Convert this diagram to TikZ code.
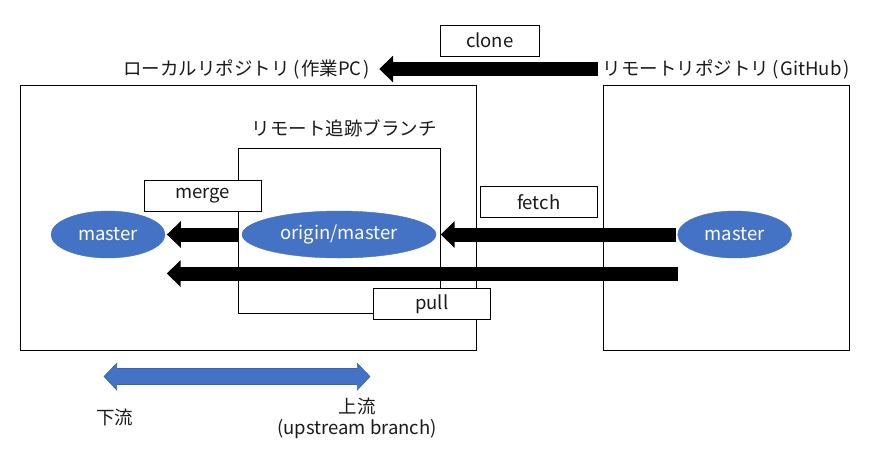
\documentclass[tikz,border=0pt]{standalone}
\usepackage{fontspec}
\setmainfont{Noto Sans CJK JP}
\usetikzlibrary{arrows.meta,shapes.geometric}
\definecolor{obl}{HTML}{4472C4}
\definecolor{obd}{HTML}{3A64B0}
\definecolor{ink}{HTML}{1A1A1A}
\newcommand{\lpar}{\kern3.5pt(\kern1.5pt}
\newcommand{\rpar}{\kern1.5pt)\kern3.5pt}
\begin{document}
\begin{tikzpicture}[x=1pt,y=-1pt,
  txt/.style={font=\fontsize{18.5}{22}\selectfont, inner sep=0pt, text=ink},
  cont/.style={draw=black, line width=0.9pt, fill=none, inner sep=0pt},
  opbox/.style={draw=black, fill=white, line width=0.9pt, minimum width=117pt, minimum height=31pt, inner sep=0pt, font=\fontsize{18.5}{22}\selectfont, text=ink},
  br/.style={ellipse, fill=obl, draw=obl, text=white, minimum height=47pt, inner sep=0pt, font=\fontsize{18.5}{22}\selectfont},
  blk/.style={draw=black, line width=14pt, -{Triangle[length=14pt,width=26pt]}}
]
\useasboundingbox (0,0) rectangle (893,459);
% containers
\node[cont, minimum width=456pt, minimum height=265pt] (local) at (248,217.5) {};
\node[cont, minimum width=246pt, minimum height=265pt] (remote) at (726,217.5) {};
\node[cont, minimum width=202pt, minimum height=165pt] (track) at (339,230.5) {};
% labels
\node[txt, anchor=east] (llabel) at (373,69) {ローカルリポジトリ\lpar 作業PC\rpar};
\node[txt, anchor=west] (rlabel) at (602.7,69) {リモートリポジトリ\lpar GitHub\rpar};
\node[txt] (tlabel) at (344,128) {リモート追跡ブランチ};
% branches
\node[br, minimum width=114pt] (lmaster) at (108,234.5) {master};
\node[br, minimum width=194pt] (origin) at (339,234.5) {origin/master};
\node[br, minimum width=114pt] (rmaster) at (734.7,234.5) {master};
% arrows
\coordinate (pullS) at (677.7,273.5);
\coordinate (pullE) at (166.7,273.5);
\draw[blk, shorten <=5pt, shorten >=6.2pt] (rlabel.west) -- (llabel.east);
\draw[blk, shorten <=4pt, shorten >=1.7pt] (origin.west) -- (lmaster.east);
\draw[blk, shorten <=1.7pt, shorten >=4.5pt] (rmaster.west) -- (origin.east);
\draw[blk] (pullS) -- (pullE);
% operation boxes
\node[opbox, minimum width=99pt] (clone) at (489.8,40.7) {clone};
\node[opbox] (fetch) at (538.7,201.8) {fetch};
\node[opbox] (merge) at (202.8,195.8) {merge};
\node[opbox] (pull) at (431.8,303.8) {pull};
% upstream / downstream
\fill[obl, draw=obd, line width=0.6pt] (104,376.5) -- (116.7,363.3) -- (116.7,368.5) -- (357.3,368.5) -- (357.3,363.3) -- (370,376.5) -- (357.3,390) -- (357.3,384.5) -- (116.7,384.5) -- (116.7,390) -- cycle;
\node[txt] (down) at (114.8,417.7) {下流};
\node[txt, align=center, font=\fontsize{18.5}{21}\selectfont] (up) at (357,418.5) {上流\\(upstream branch)};
\end{tikzpicture}
\end{document}
